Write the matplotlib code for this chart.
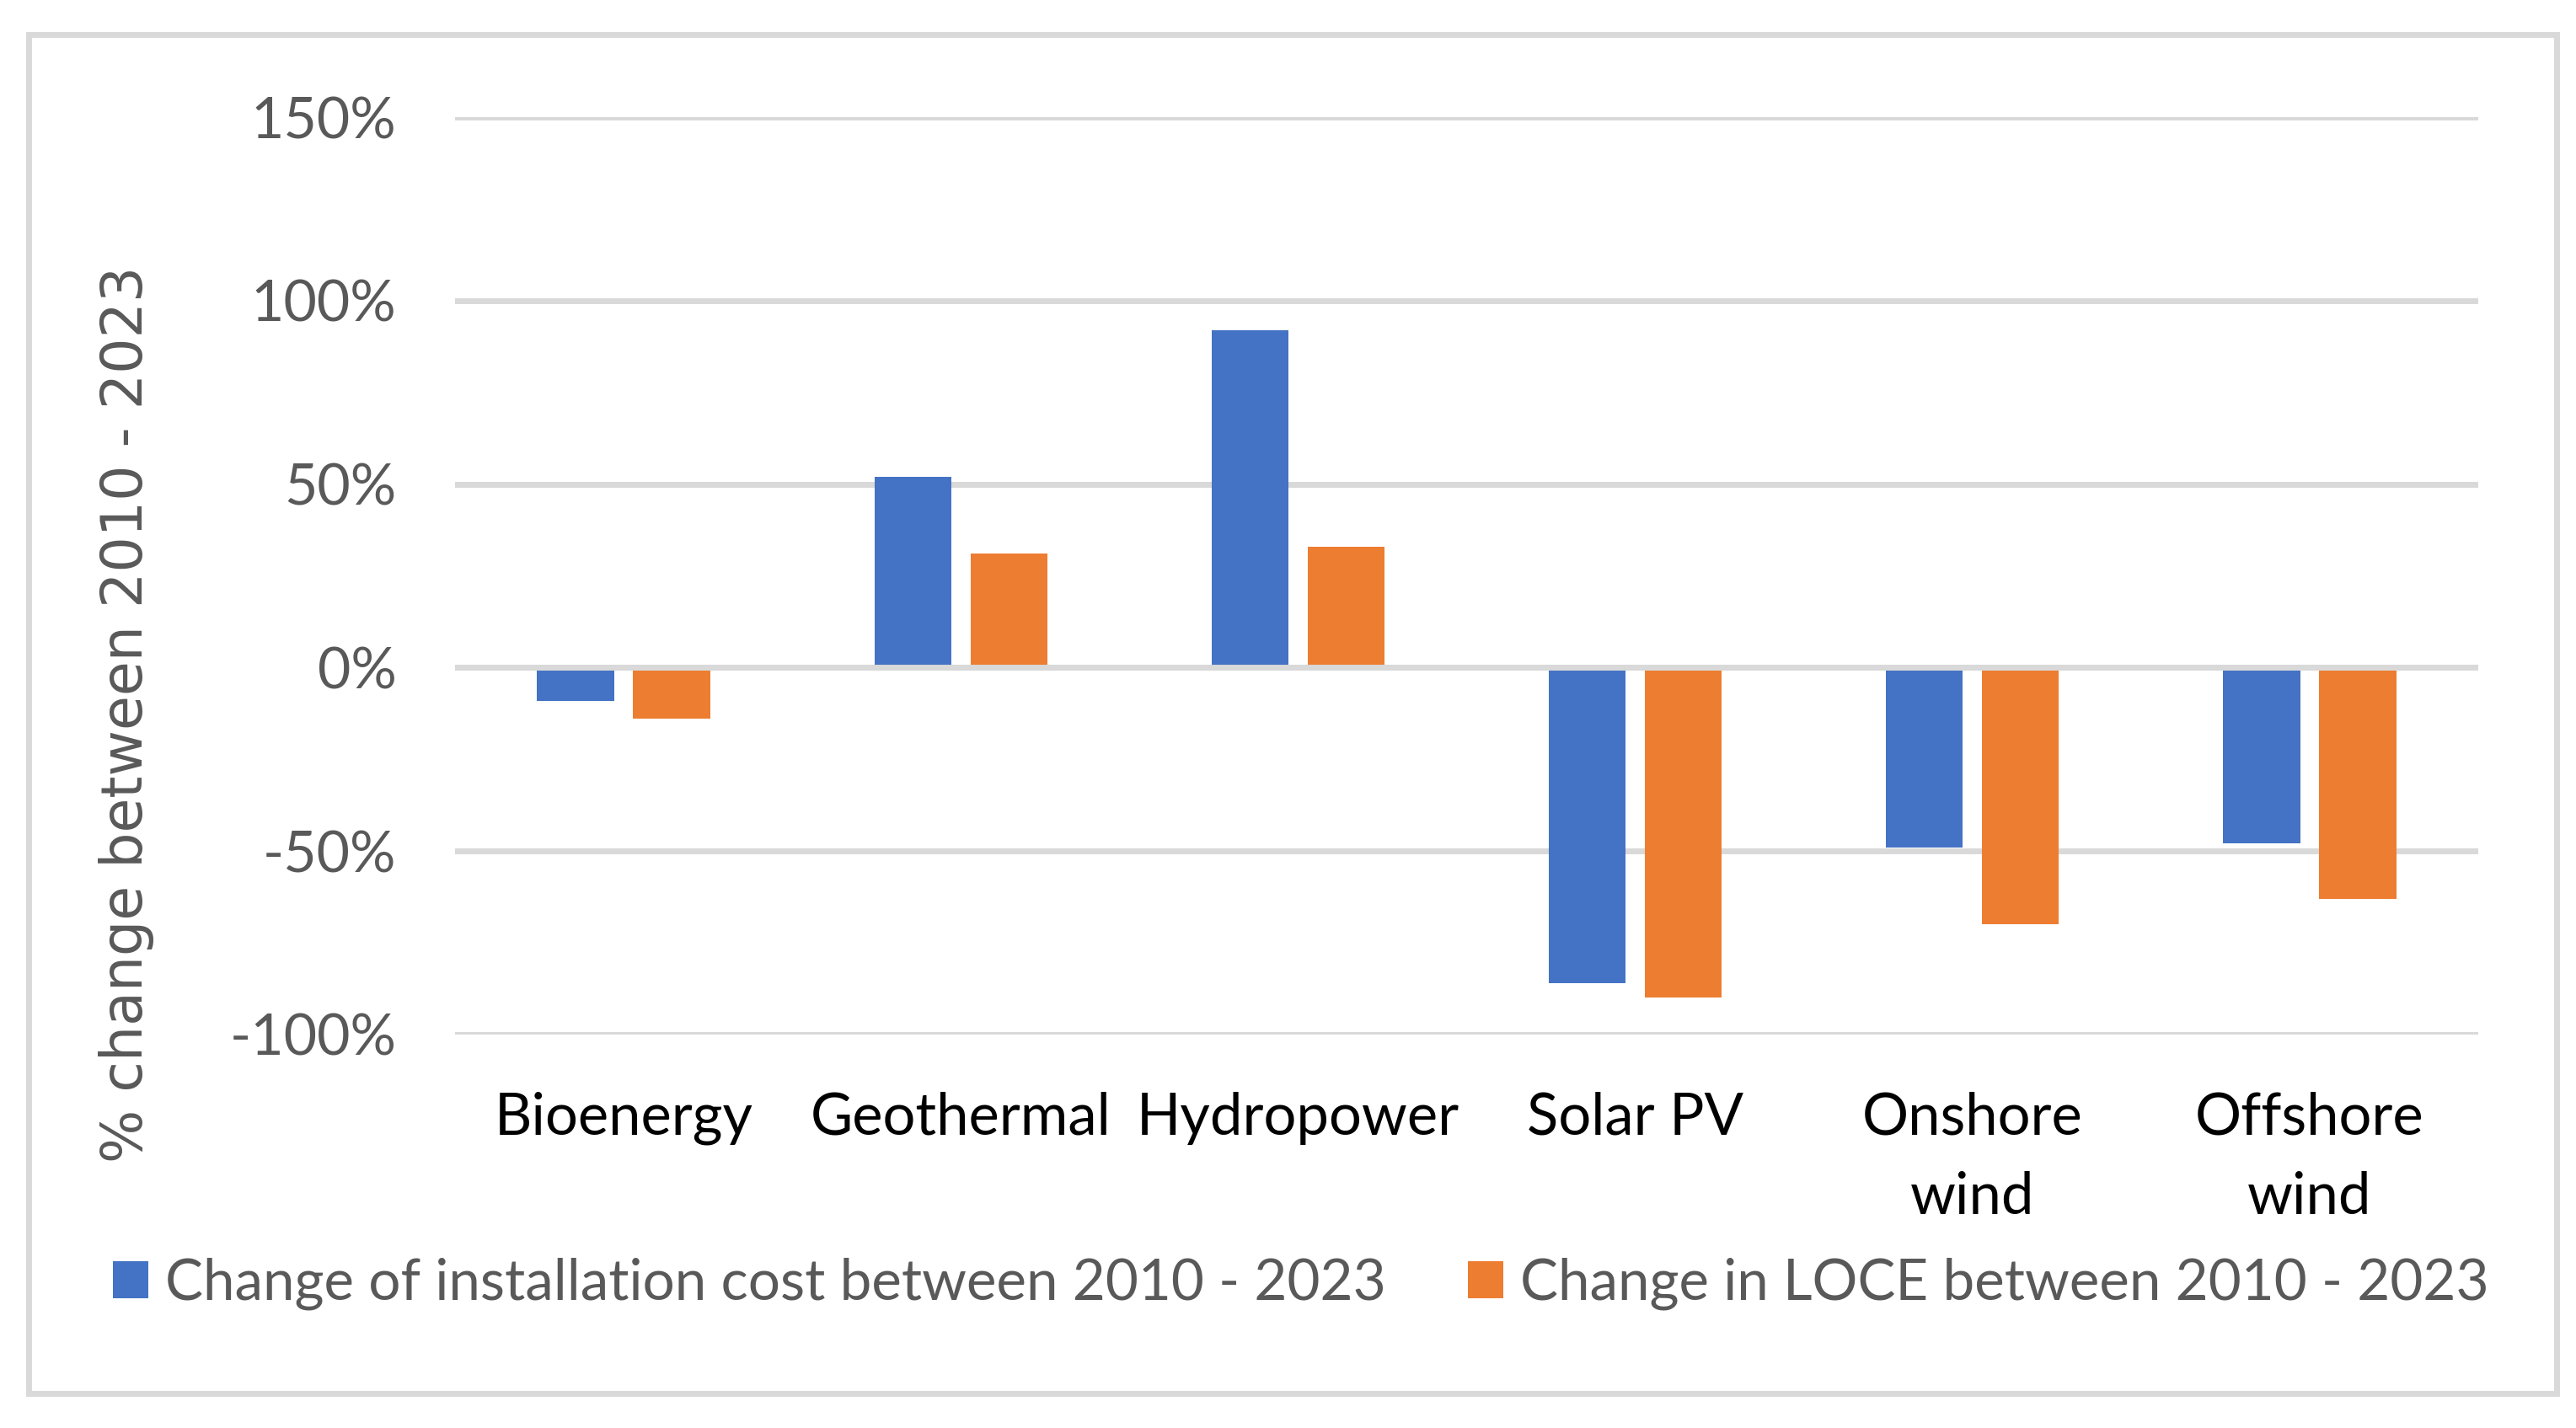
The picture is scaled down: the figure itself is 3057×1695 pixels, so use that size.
import matplotlib
matplotlib.use("Agg")
import matplotlib.pyplot as plt
from matplotlib.patches import Rectangle, Patch
from matplotlib.ticker import FuncFormatter, FixedLocator
import numpy as np

categories = ["Bioenergy", "Geothermal", "Hydropower", "Solar PV", "Onshore\nwind", "Offshore\nwind"]
install_change = [-9, 52, 92, -86, -49, -48]
lcoe_change = [-14, 31, 33, -90, -70, -63]
series_names = ["Change of installation cost between 2010 - 2023",
                "Change in LOCE between 2010 - 2023"]
y_ticks = [-100, -50, 0, 50, 100, 150]

BLUE = "#4472C4"
ORANGE = "#ED7D31"
GRID = "#D9D9D9"
TXT = "#595959"
FONT = "Lato"

W, H = 3057, 1695
DPI = 100
fig = plt.figure(figsize=(W / DPI, H / DPI), dpi=DPI, facecolor="white")

# outer chart border
fig.patches.append(Rectangle((33.5 / W, 1 - 1653.5 / H), (3033.5 - 33.5) / W, (1653.5 - 40.5) / H,
                             transform=fig.transFigure, fill=False, edgecolor=GRID,
                             linewidth=5.0, zorder=0))

left, right = 540 / W, 2941 / W
bottom, top = 1 - 1227.7 / H, 1 - 139.3 / H
ax = fig.add_axes([left, bottom, right - left, top - bottom])
ax.set_facecolor("none")

x = np.arange(len(categories))
bw = 0.228
off = 0.1425
ax.bar(x - off, install_change, width=bw, color=BLUE, zorder=3, label=series_names[0])
ax.bar(x + off, lcoe_change, width=bw, color=ORANGE, zorder=3, label=series_names[1])

ax.set_xlim(-0.5, len(categories) - 0.5)
ax.set_ylim(-100, 150)
ax.yaxis.set_major_locator(FixedLocator(y_ticks))
ax.yaxis.set_major_formatter(FuncFormatter(lambda v, p: f"{v:.0f}%"))
ax.grid(axis="y", color=GRID, linewidth=5.0, zorder=1)
ax.set_axisbelow(True)
ax.axhline(0, color=GRID, linewidth=5.0, zorder=4)

for s in ax.spines.values():
    s.set_visible(False)

ax.set_xticks(x)
ax.set_xticklabels(categories, fontfamily=FONT, fontsize=49.5, color="black", linespacing=1.62)
ax.tick_params(axis="x", length=0, pad=49)
ax.tick_params(axis="y", length=0, pad=50, labelsize=49, labelcolor=TXT)
for t in ax.get_yticklabels():
    t.set_fontfamily(FONT)

fig.text(150 / W, 1 - 848 / H, "% change between 2010 - 2023", rotation=90,
         ha="center", va="center", fontsize=48, color=TXT, fontfamily="DejaVu Sans")

handles = [Patch(facecolor=BLUE, edgecolor="none"), Patch(facecolor=ORANGE, edgecolor="none")]
fig.legend(handles, series_names, loc="center", bbox_to_anchor=(1544 / W, 1 - 1524 / H),
           ncol=2, frameon=False, prop={"family": FONT, "size": 48.5}, labelcolor=TXT,
           handlelength=0.62, handleheight=0.62, handletextpad=0.30, columnspacing=1.45,
           borderaxespad=0, borderpad=0)

fig.savefig("out.png", dpi=DPI, facecolor="white")
